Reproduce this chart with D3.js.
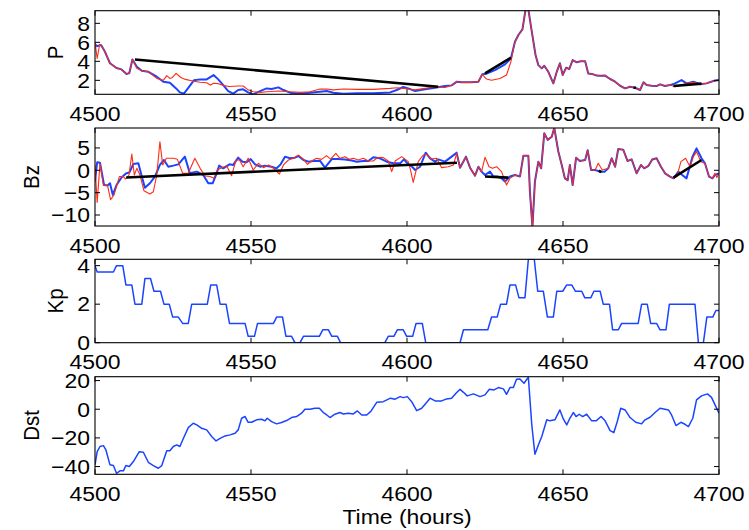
<!DOCTYPE html>
<html>
<head>
<meta charset="utf-8">
<script src="https://cdn.jsdelivr.net/npm/d3@7"></script>
<style>
  body { margin: 0; background: #fff; }
  text { font-family: "Liberation Sans", Arial, Helvetica, sans-serif; fill: #000; }
</style>
</head>
<body>
<div id="container"></div>
<script>
// ---- data (hours, value) ----
const xTicks = [4500, 4550, 4600, 4650, 4700];
const pTicks = [2, 4, 6, 8];
const bzTicks = [-10, -5, 0, 5];
const kpTicks = [0, 2, 4];
const dstTicks = [-40, -20, 0, 20];

const pBlue = [[4500,5.8],[4500.7,5.6],[4501.6,5.7],[4502,5.7],[4503.2,5.0],[4504.8,3.8],[4506.9,3.3],[4508.5,3.15],[4510.1,2.66],[4511,2.77],[4512,4.2],[4513.4,3.43],[4515,3.0],[4517.1,2.9],[4519.8,2.38],[4521.9,1.85],[4524,1.75],[4526,1.15],[4527.2,0.73],[4528.5,0.6],[4529.9,1.2],[4531.7,2.0],[4533.7,2.1],[4535.8,2.1],[4538,2.55],[4539.5,2.1],[4541.1,1.5],[4542.7,0.87],[4544.3,0.6],[4545.9,0.98],[4547.5,1.05],[4549.1,0.73],[4550.7,0.52],[4552.9,0.87],[4555,1.15],[4556.6,1.08],[4558.8,1.26],[4560.4,0.98],[4562.5,0.7],[4565.7,0.6],[4568.9,0.7],[4572.1,0.8],[4574.3,0.87],[4576.4,0.7],[4579.6,0.6],[4583.9,0.63],[4589.2,0.63],[4594.6,0.73],[4596.7,0.98],[4598.8,1.3],[4600.4,1.15],[4602.6,0.87],[4605.8,1.05],[4609,1.22],[4612.2,1.4],[4614.3,1.47],[4616,1.86],[4617.5,1.79],[4620.7,1.79],[4622.9,1.86],[4624.1,2.63],[4625.5,2.7],[4628.2,3.08],[4631.4,3.68],[4633.3,4.3],[4634.6,6.06],[4635.7,6.77],[4637,7.36],[4638,9.45],[4638.9,9.45],[4640,7.12],[4641.2,4.67],[4642.1,3.6],[4643.2,3.26],[4644,3.53],[4645.3,2.9],[4646.9,1.68],[4648,2.9],[4649,3.8],[4649.9,2.56],[4651,3.33],[4652,3.19],[4653.1,4.14],[4654.4,3.9],[4655.7,4.0],[4657.1,4.0],[4658.1,2.73],[4659.7,2.63],[4660.8,2.5],[4661.9,2.49],[4663.5,2.5],[4665.1,2.14],[4666.7,1.86],[4668.3,1.43],[4669.9,1.15],[4671.5,1.33],[4673.1,1.22],[4674.7,0.98],[4675.8,1.79],[4676.8,1.5],[4678.4,1.43],[4680,1.4],[4681.1,1.58],[4682.7,1.4],[4684.3,1.5],[4685.9,1.68],[4688,2.03],[4689.6,1.68],[4691.8,1.86],[4693.9,1.6],[4696,1.68],[4698.2,1.93],[4700,2.03]];

const pRed = [[4500,6.0],[4500.7,4.3],[4501.5,5.8],[4502,5.7],[4503.2,5.0],[4504.8,3.8],[4506.9,3.3],[4508.5,3.15],[4510.1,2.66],[4511,2.77],[4512,4.2],[4513.4,3.26],[4515,3.0],[4517.1,2.9],[4519.8,2.2],[4521.9,2.0],[4523,2.5],[4524,2.2],[4524.8,2.3],[4526,2.73],[4527.5,2.3],[4529,2.1],[4531.7,1.9],[4533.7,1.8],[4535.8,1.75],[4537,1.5],[4538,1.7],[4539.5,1.65],[4541.1,1.47],[4543,1.35],[4545.9,1.4],[4547.5,1.4],[4549.1,1.0],[4550.7,0.8],[4552.9,0.73],[4555,0.8],[4558.8,0.87],[4562.5,0.8],[4565.7,0.73],[4568.9,0.8],[4572.1,1.08],[4574.3,1.08],[4576.4,1.0],[4579.6,1.08],[4583.9,1.05],[4589.2,1.05],[4594.6,1.15],[4596.7,1.22],[4598.8,1.15],[4600.4,1.08],[4602.6,1.0],[4605.8,1.15],[4609,1.3],[4612.2,1.25],[4614.3,1.47],[4616,1.86],[4617.5,1.79],[4620.7,1.79],[4622.9,1.86],[4624.1,2.63],[4625.5,2.14],[4627.1,2.0],[4629.8,2.2],[4631.9,2.56],[4633.3,3.96],[4634.6,6.06],[4635.7,6.77],[4637,7.36],[4638,9.45],[4638.9,9.45],[4640,7.12],[4641.2,4.67],[4642.1,3.6],[4643.2,3.26],[4644,3.53],[4645.3,2.9],[4646.9,1.68],[4648,2.9],[4649,3.8],[4649.9,2.56],[4651,3.33],[4652,3.19],[4653.1,4.14],[4654.4,3.9],[4655.7,4.0],[4657.1,4.0],[4658.1,2.73],[4659.7,2.63],[4660.8,2.5],[4661.9,2.49],[4663.5,2.5],[4665.1,2.14],[4666.7,1.86],[4668.3,1.43],[4669.9,1.15],[4671.5,1.33],[4673.1,1.22],[4674.7,0.98],[4675.8,1.79],[4676.8,1.5],[4678.4,1.43],[4680,1.4],[4681.1,1.58],[4682.7,1.4],[4684.3,1.5],[4685.9,1.33],[4688,1.5],[4689.6,1.68],[4691.8,1.79],[4693.9,1.58],[4696,1.68],[4698.2,1.93],[4700,2.03]];

const pBlack = [[[4512.8,4.2],[4610,1.33]], [[4625,2.73],[4633.3,4.38]], [[4672.6,1.22],[4673.4,1.22]], [[4685.4,1.4],[4694.4,1.65]]];

const bzBlue = [[4500,-2.5],[4500.7,1.8],[4501.6,1.7],[4502.9,-3.3],[4504,-3.4],[4504.8,-2.9],[4505.7,-5.5],[4506.9,-3.3],[4508.5,-1.6],[4509.9,-0.7],[4511,-0.5],[4512.3,1.4],[4513.9,1.56],[4515,-1.4],[4516,-3.9],[4517.6,-2.9],[4519.2,-1.4],[4520.8,1.2],[4522.1,2.3],[4523.5,0.8],[4525.1,1.04],[4526.7,1.33],[4528.8,3.05],[4530.4,-0.68],[4532.6,-0.3],[4534.7,-1.05],[4536.3,-2.9],[4537.7,-2.9],[4538.8,-1.05],[4539.8,1.04],[4541.1,0.44],[4543.1,1.33],[4544.3,1.2],[4545.9,2.83],[4547.3,1.93],[4548.6,1.8],[4549.9,2.5],[4551.3,1.33],[4552.9,0.8],[4554.5,1.04],[4556.6,0.8],[4558.2,0.44],[4559.5,1.33],[4560.9,3.05],[4562.5,2.68],[4564.1,2.83],[4565.2,3.2],[4566.8,2.3],[4568.4,1.93],[4570,2.07],[4572.1,2.15],[4573.7,0.59],[4575.9,2.5],[4578,2.5],[4580.1,2.4],[4582.3,2.2],[4583.9,1.93],[4586,2.07],[4587.6,2.07],[4589.2,2.9],[4591.3,2.68],[4593.5,1.93],[4595.6,1.56],[4597.8,1.56],[4599,2.45],[4600.4,1.33],[4601.5,0.9],[4602.6,0.07],[4604.2,0.8],[4606,3.94],[4607.4,2.68],[4609,1.93],[4610,2.45],[4612.2,1.93],[4614.3,3.05],[4615.9,3.94],[4617,0.59],[4618.9,3.05],[4620.2,0.59],[4621.8,-1.2],[4622.9,0.8],[4623.9,-0.3],[4625,-1.05],[4626.6,-0.3],[4627.7,-1.4],[4629.1,-1.4],[4630.3,-1.8],[4631.4,-2.5],[4633,-1.4],[4634.6,-1.05],[4636.2,-1.4],[4637.3,3.27],[4638.9,3.27],[4639.4,-4.8],[4640.2,-12.7],[4641,-2.5],[4642.1,1.93],[4643,0.44],[4644,8.3],[4645.1,6.8],[4646.4,7.5],[4647.2,9.5],[4648.5,4.2],[4649.6,1.2],[4650.6,-1.8],[4651.5,-2.2],[4652.2,1.2],[4653.1,-3.3],[4654.2,2.83],[4655.4,2.07],[4657.1,2.3],[4657.9,4.5],[4659,0.07],[4660.3,0.07],[4661.9,-0.3],[4663.3,-0.3],[4664.5,0.44],[4665.6,2.68],[4666.7,0.8],[4667.7,4.76],[4669.3,4.6],[4670.7,2.07],[4672,2.45],[4673.6,-0.68],[4675,1.2],[4676,0.44],[4677.4,1.0],[4678.6,2.4],[4680,2.68],[4681.4,0.8],[4682.7,-0.68],[4684.3,-1.4],[4685.4,-1.8],[4687,-0.3],[4688.2,-1.05],[4689.6,-1.8],[4691.5,3.05],[4692.8,4.9],[4694.4,2.68],[4695.5,1.56],[4696.8,-1.4],[4697.9,-1.8],[4698.7,-1.05],[4700,-0.68]];

const bzRed = [[4500,1.2],[4500.7,-7.2],[4501.6,1.56],[4502.7,-3.4],[4504,-3.3],[4505,-6.6],[4506.1,-5.5],[4507.8,-1.4],[4509.1,-1.4],[4509.8,-1.95],[4510.9,-1.05],[4511.8,3.65],[4512.6,-1.05],[4513.4,0.44],[4514.4,-1.05],[4515.7,-4.6],[4517.6,-5.3],[4518.7,-4.8],[4519.8,-1.05],[4520.8,6.4],[4521.7,1.2],[4522.9,2.68],[4525.1,2.68],[4526.4,2.45],[4528.1,-0.68],[4529.9,-0.68],[4532,2.68],[4533.7,0.44],[4535.3,-1.27],[4536.9,-1.4],[4538.1,-1.8],[4539.2,0.07],[4540.6,0.59],[4542.2,1.04],[4543.8,-1.2],[4545.2,2.3],[4546.3,2.3],[4547.5,0.8],[4549.1,2.68],[4550.7,0.07],[4552.4,1.56],[4554,0.59],[4555.6,1.2],[4557.2,0.44],[4559.1,-0.83],[4560.4,1.2],[4562,2.3],[4563.6,2.68],[4565.2,3.4],[4566.8,2.5],[4568.1,1.33],[4569.4,2.07],[4571,2.68],[4572.6,2.45],[4574.2,3.27],[4575.5,2.5],[4577.2,3.8],[4578.5,2.68],[4580.1,3.05],[4581.5,2.45],[4582.8,2.68],[4584.4,2.3],[4586,2.68],[4587.6,2.07],[4589.2,2.07],[4590.5,2.83],[4592.4,2.83],[4594,2.07],[4595.1,-0.3],[4596.2,2.07],[4598.3,3.05],[4600.4,1.93],[4601,0.44],[4602,-2.7],[4603.6,1.93],[4605.2,3.42],[4606.3,3.57],[4607.9,2.53],[4609.5,2.68],[4611.1,0.59],[4613.2,0.8],[4614.9,1.2],[4615.9,3.8],[4617,0.59],[4618.9,3.05],[4620.2,0.59],[4621.8,-1.2],[4622.9,0.8],[4623.9,-0.3],[4625,2.9],[4626.3,0.8],[4627.4,0.44],[4628.7,0.8],[4630.3,-0.3],[4631.9,-3.3],[4633,-1.8],[4634.6,-1.05],[4636.2,-1.4],[4637.3,3.27],[4638.9,3.27],[4639.4,-4.8],[4640.2,-12.7],[4641,-2.5],[4642.1,1.93],[4643,0.44],[4644,8.3],[4645.1,6.8],[4646.4,7.5],[4647.2,9.5],[4648.5,4.2],[4649.6,1.2],[4650.6,-1.8],[4651.5,-2.2],[4652.2,1.2],[4653.1,-3.3],[4654.2,2.83],[4655.4,2.07],[4657.1,2.3],[4657.9,4.5],[4659,0.07],[4660.3,0.07],[4661.3,1.56],[4662.6,0.07],[4664.5,0.44],[4665.6,2.68],[4666.7,0.8],[4667.7,4.76],[4669.3,4.6],[4670.7,2.07],[4672,2.45],[4673.6,-0.68],[4675,1.2],[4676,0.44],[4677.4,1.0],[4678.6,2.4],[4680,2.68],[4681.4,0.8],[4682.7,-0.68],[4684.3,-1.4],[4685.4,-1.8],[4686.5,-1.4],[4687.8,1.93],[4689.3,2.68],[4690.7,0.8],[4691.8,3.05],[4692.8,4.17],[4694.2,1.93],[4695.5,1.56],[4696.8,-1.4],[4697.9,-1.8],[4698.7,-0.68],[4699.3,-1.6],[4700,-0.68]];

const bzBlack = [[[4510,-1.6],[4616,1.7]], [[4625,-1.4],[4632.5,-1.65]], [[4661.5,-0.1],[4662.3,-0.4]], [[4685.4,-1.65],[4694.4,2.3]]];

const kp = [[4500,4.0],[4500.7,3.67],[4505.9,3.67],[4506.9,4.0],[4508.9,4.0],[4509.9,3.0],[4511.8,3.0],[4512.8,2.0],[4515,2.0],[4516,3.33],[4517.8,3.33],[4518.9,2.67],[4521,2.67],[4522.1,2.0],[4523.8,2.0],[4524.9,1.33],[4526.7,1.33],[4528.1,1.0],[4529.9,1.0],[4531,2.0],[4536,2.0],[4537.1,3.0],[4539,3.0],[4540.1,2.0],[4542,2.0],[4543.1,1.0],[4548.1,1.0],[4549.1,0.33],[4551.1,0.33],[4552.1,1.0],[4557.2,1.0],[4558.2,1.33],[4560.1,1.33],[4561.2,0.33],[4563,0.33],[4564.1,0],[4565.7,0],[4566.8,0.33],[4571.9,0.33],[4573,0.67],[4574.8,0.67],[4575.9,0.33],[4577.7,0.33],[4578.7,0],[4592.9,0],[4594,0.33],[4595.8,0.33],[4596.9,0.67],[4598.8,0.67],[4599.9,0.33],[4601.8,0.33],[4602.9,1.0],[4604.9,1.0],[4606,0],[4617,0],[4618.1,0.67],[4625.9,0.67],[4627.1,1.33],[4628.9,1.33],[4630,2.0],[4631.9,2.0],[4633,3.0],[4634.8,3.0],[4635.9,2.33],[4637.8,2.33],[4638.9,4.33],[4640.8,4.33],[4641.9,2.67],[4643.7,2.67],[4645,1.33],[4646.9,1.33],[4648,2.67],[4649.9,2.67],[4651.2,3.0],[4652.8,3.0],[4654,2.67],[4656,2.67],[4657,2.33],[4658.9,2.33],[4659.9,2.67],[4661.9,2.67],[4662.9,2.0],[4664.9,2.0],[4665.9,0.67],[4667.7,0.67],[4668.8,1.0],[4674.1,1.0],[4675.2,2.0],[4677,2.0],[4678.1,1.0],[4680,1.0],[4681.1,0.67],[4683,0.67],[4684.1,2.0],[4692.3,2.0],[4693.4,0],[4695,0],[4696.1,1.33],[4698,1.33],[4699,1.67],[4700,1.67]];

const dst = [[4500,-38.8],[4500.7,-29.6],[4501.6,-26],[4502.7,-25.4],[4503.5,-28.4],[4504.8,-38.8],[4505.9,-39.3],[4506.9,-44.7],[4508,-43],[4509.1,-43],[4509.9,-39.3],[4511,-40],[4512.3,-36.5],[4514.2,-29.6],[4515.5,-30],[4517.1,-37],[4518.7,-39.3],[4520.3,-41.2],[4521.4,-39.3],[4523,-29],[4524,-29],[4525.1,-26],[4526.2,-24.9],[4527.2,-26],[4528.6,-19],[4529.9,-12.8],[4531.5,-9.8],[4532.6,-10.9],[4534.2,-13.3],[4535.8,-14.4],[4537.4,-19],[4538.8,-22.1],[4540.1,-20.3],[4541.7,-18.6],[4543.3,-17.9],[4544.9,-16.7],[4545.9,-14.4],[4547,-6.3],[4548.1,-5.1],[4549.1,-9.1],[4550.2,-9.1],[4551.8,-7.4],[4553.4,-7],[4554.5,-8.1],[4555.2,-6.3],[4556.6,-8.6],[4558.2,-10.2],[4559.8,-9.3],[4561.4,-7.9],[4563,-5.8],[4564.6,-5.1],[4566.2,-2.8],[4567.3,0],[4568.9,0],[4570.5,0.7],[4571.9,0.7],[4573.2,-2.3],[4574.3,-4],[4575.3,-5.8],[4576.9,-3.5],[4578.5,-2.3],[4579.6,-3.3],[4581.2,-2.8],[4582.8,-3.3],[4584.1,-1.2],[4585.5,-4],[4587.1,-4],[4588.4,-1.5],[4590.3,4.8],[4592.4,5.3],[4594.7,7.7],[4596.2,7.0],[4597.8,8.8],[4598.8,8.1],[4600.1,8.8],[4601.5,5.3],[4603.1,-1],[4604.7,0.7],[4605.8,3.5],[4607.4,7.7],[4609,5.8],[4611.1,5.8],[4612.7,7.2],[4614.3,7.7],[4615.7,11.1],[4617,13.9],[4618.1,11.8],[4619.3,9.3],[4621.3,10.7],[4623.4,8.8],[4625,10],[4626.4,13.9],[4627.9,13.5],[4629.3,15.1],[4630.9,14.2],[4631.9,10.4],[4633,15.1],[4634.1,15.1],[4635.1,20.9],[4636.2,21.1],[4637.5,18.1],[4638.9,22.3],[4640,-11],[4641,-31.4],[4642.1,-24.9],[4643.2,-19],[4644.8,-7.4],[4645.8,-8.1],[4647.4,-7.4],[4649,-0.5],[4650.1,-6.8],[4651.2,-10.9],[4652.2,-6.3],[4653.3,-2.3],[4654.2,-5.1],[4655.2,-3.5],[4656.3,-5.1],[4657.6,-3.5],[4659.2,-8.1],[4660.6,-8.1],[4662.2,-5.1],[4663.5,-8.1],[4665.1,-14.9],[4666.3,-16.3],[4667.4,-8.6],[4668.5,0.7],[4669.9,-0.5],[4671.5,-5.8],[4673.3,-9.1],[4675.2,-10.2],[4676.3,-7.4],[4677.9,-5.6],[4679.5,-2.3],[4681.1,0.7],[4682.7,0],[4683.8,-0.5],[4684.8,-4],[4686.2,-11.4],[4687.8,-9.1],[4689.1,-10.5],[4690.2,-12.1],[4691.6,-6.3],[4692.8,6.5],[4694.4,9.3],[4696.3,10.7],[4697.6,8.3],[4699,1.8],[4700,-2.8]];

// ---- layout ----
const w = 749, h = 530;
const blue = "#1a44ff", red = "#ff2b14";
const stretch = 1.12;   // text in the figure is a bit wide
const fontSize = 20.5;
const tickLen = 5;

const x = d3.scaleLinear().domain([4500, 4700]).range([95, 719]);

const panels = [
  { label: "P",   top: 10.7,  bottom: 94.3,  domain: [0.53, 9.33],   ticks: pTicks,   labelX: 63,
    lines: [{ data: pBlue, color: blue, width: 2 }, { data: pRed, color: red, width: 1.1 }], black: pBlack },
  { label: "Bz",  top: 128,   bottom: 226,   domain: [-12.46, 9.46], ticks: bzTicks,  labelX: 38.5,
    lines: [{ data: bzBlue, color: blue, width: 2 }, { data: bzRed, color: red, width: 1.1 }], black: bzBlack },
  { label: "Kp",  top: 259.3, bottom: 342.7, domain: [0, 4.33],      ticks: kpTicks,  labelX: 63,
    lines: [{ data: kp, color: blue, width: 1.5 }], black: [] },
  { label: "Dst", top: 376.7, bottom: 474.3, domain: [-45.4, 22.7],  ticks: dstTicks, labelX: 38.5,
    lines: [{ data: dst, color: blue, width: 1.5 }], black: [] }
];

const svg = d3.select("#container")
  .append("svg")
    .attr("width", w)
    .attr("height", h);

function wideText(g, str, px, py, anchor, rotate) {
  const tr = rotate
    ? `translate(${px},${py}) rotate(-90) scale(1,${stretch})`
    : `translate(${px},${py}) scale(${stretch},1)`;
  return g.append("text")
    .attr("transform", tr)
    .attr("text-anchor", anchor)
    .attr("font-size", fontSize)
    .text(str);
}

panels.forEach((p, i) => {
  const y = d3.scaleLinear().domain(p.domain).range([p.bottom, p.top]);
  const g = svg.append("g");
  const [x0, x1] = x.range();

  g.append("clipPath").attr("id", "clip" + i)
    .append("rect")
      .attr("x", x0).attr("y", p.top)
      .attr("width", x1 - x0).attr("height", p.bottom - p.top);

  const line = d3.line().x(d => x(d[0])).y(d => y(d[1]));
  const plot = g.append("g").attr("clip-path", `url(#clip${i})`);

  p.lines.forEach(s => {
    plot.append("path")
      .datum(s.data)
      .attr("fill", "none")
      .attr("stroke", s.color)
      .attr("stroke-width", s.width)
      .attr("stroke-linejoin", "round")
      .attr("d", line);
  });

  p.black.forEach(seg => {
    plot.append("path")
      .datum(seg)
      .attr("fill", "none")
      .attr("stroke", "#000")
      .attr("stroke-width", 2.6)
      .attr("d", line);
  });

  // box
  g.append("rect")
    .attr("x", x0).attr("y", p.top)
    .attr("width", x1 - x0).attr("height", p.bottom - p.top)
    .attr("fill", "none").attr("stroke", "#000").attr("stroke-width", 1.1);

  // inward ticks on all four sides
  xTicks.forEach(t => {
    g.append("line").attr("x1", x(t)).attr("x2", x(t))
      .attr("y1", p.bottom).attr("y2", p.bottom - tickLen).attr("stroke", "#000");
    g.append("line").attr("x1", x(t)).attr("x2", x(t))
      .attr("y1", p.top).attr("y2", p.top + tickLen).attr("stroke", "#000");
    wideText(g, d3.format("d")(t), x(t), p.bottom + 26.5, "middle", false);
  });
  p.ticks.forEach(v => {
    g.append("line").attr("x1", x0).attr("x2", x0 + tickLen)
      .attr("y1", y(v)).attr("y2", y(v)).attr("stroke", "#000");
    g.append("line").attr("x1", x1).attr("x2", x1 - tickLen)
      .attr("y1", y(v)).attr("y2", y(v)).attr("stroke", "#000");
    wideText(g, d3.format("d")(v).replace("-", "\u2212"), 90, y(v) + 7.3, "end", false);
  });

  wideText(g, p.label, p.labelX, (p.top + p.bottom) / 2, "middle", true);
});

wideText(svg, "Time (hours)", 407, 524, "middle", false);
</script>
</body>
</html>
